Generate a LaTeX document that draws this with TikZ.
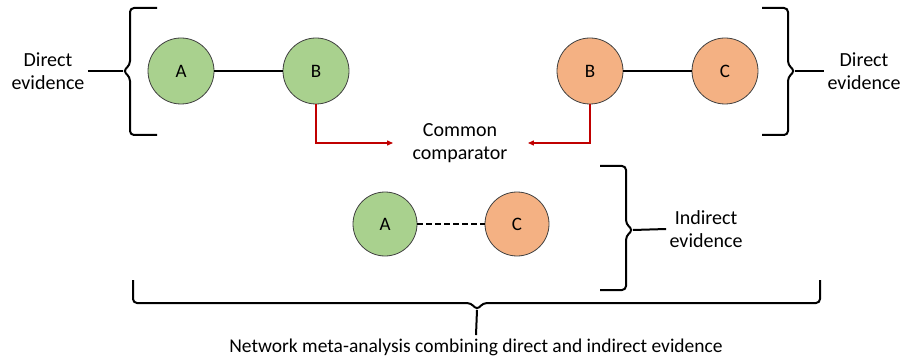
\documentclass[tikz,border=0pt]{standalone}
\usepackage{fontspec}
\setmainfont{Carlito}
\usetikzlibrary{arrows.meta}
\definecolor{trtgreen}{HTML}{A9D18E}
\definecolor{trtorange}{HTML}{F4B183}
\definecolor{cmpred}{HTML}{C00000}
\begin{document}
\begin{tikzpicture}[x=1pt,y=-1pt,
  trt/.style={draw=black!75,circle,minimum size=66pt,inner sep=0pt,line width=0.8pt,font=\fontsize{19}{22}\selectfont},
  lbl/.style={align=center,font=\fontsize{20}{23}\selectfont},
  brace/.style={line width=2pt,rounded corners=4pt},
  cmp/.style={draw=cmpred,line width=1.3pt,-{Triangle[length=6pt,width=5pt]}}]
\useasboundingbox (0,0) rectangle (901,358);
\node[trt,fill=trtgreen] (a1) at (181,71) {A};
\node[trt,fill=trtgreen] (b1) at (316,71) {B};
\node[trt,fill=trtorange] (b2) at (590,71) {B};
\node[trt,fill=trtorange] (c2) at (725,71) {C};
\node[trt,fill=trtgreen,minimum size=64pt] (a3) at (385,224) {A};
\node[trt,fill=trtorange,minimum size=64pt] (c3) at (517,224) {C};
\draw[line width=1.8pt] (a1) -- (b1);
\draw[line width=1.8pt] (b2) -- (c2);
\draw[line width=1.8pt,dash pattern=on 6pt off 3pt] (a3) -- (c3);
\node[lbl] (comm) at (460,143) {Common\\comparator};
\draw[cmp] (b1.south) |- ([xshift=-16pt]comm.west);
\draw[cmp] (b2.south) |- ([xshift=17pt]comm.east);
\node[lbl] (dirL) at (48,71) {Direct\\evidence};
\node[lbl] (dirR) at (864,71) {Direct\\evidence};
\node[lbl] (indir) at (706,229) {Indirect\\evidence};
\node[lbl,font=\fontsize{19.5}{22}\selectfont] (net) at (476,347) {Network meta-analysis combining direct and indirect evidence};
\draw[brace] (157,8) -- (130,8) -- (130,65) -- (123,71) -- (130,77) -- (130,135) -- (157,135);
\coordinate (tipL) at (123,71);
\draw[line width=2pt] (dirL.east) -- (tipL);
\draw[brace] (762,8) -- (788,8) -- (788,65) -- (795,71) -- (788,77) -- (788,135) -- (762,135);
\coordinate (tipR) at (795,71);
\draw[line width=2pt] (tipR) -- (dirR.west);
\draw[brace] (600,166) -- (626,166) -- (626,224) -- (633,230) -- (626,236) -- (626,290) -- (600,290);
\coordinate (tipI) at (633,230);
\draw[line width=2pt] (tipI) -- (indir.west);
\draw[brace] (133,280) -- (133,303) -- (471,303) -- (477,310) -- (483,303) -- (820,303) -- (820,280);
\coordinate (tipB) at (477,310);
\draw[line width=2pt] (tipB) -- (net.north);
\end{tikzpicture}
\end{document}
